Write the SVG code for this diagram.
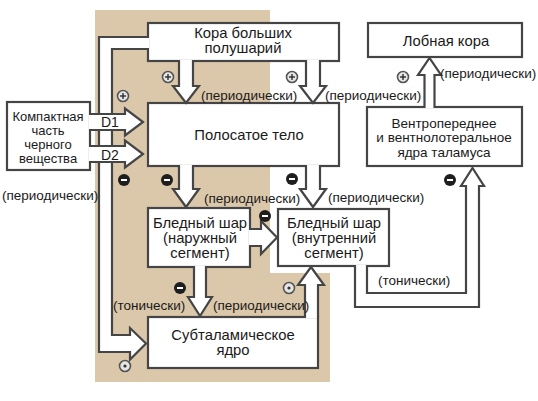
<svg xmlns="http://www.w3.org/2000/svg" width="538" height="401" viewBox="0 0 538 401">
<defs>
<style>
.box{fill:#fff;stroke:#454545;stroke-width:2.2}
.con{fill:#fff;stroke:#454545;stroke-width:2.2;stroke-linejoin:miter}
text{font-family:"Liberation Sans",Arial,sans-serif;font-size:13.5px;fill:#1a1a1a}
text.b{font-size:14.8px}
text.s{font-size:13px}
.c{text-anchor:middle}
.minus circle{fill:#1e1e1e}
.minus line{stroke:#fff;stroke-width:2}
.plus circle{fill:#e6e6e6;stroke:#555;stroke-width:1.6}
.plus line{stroke:#222;stroke-width:1.3}
.dot circle.o{fill:#e6e6e6;stroke:#555;stroke-width:1.6}
.dot circle.i{fill:#333}
</style>
<g id="minusSym" class="minus"><circle r="6"/><line x1="-3" y1="0" x2="3" y2="0"/></g>
<g id="plusSym" class="plus"><circle r="5.5"/><line x1="-3" y1="0" x2="3" y2="0"/><line x1="0" y1="-3" x2="0" y2="3"/></g>
<g id="dotSym" class="dot"><circle class="o" r="5.5"/><circle class="i" r="1.6"/></g>
</defs>
<rect width="538" height="401" fill="#fff"/>
<path d="M95,10 H270 V273 H330 V382 H95 Z" fill="#dbc8aa"/>

<g id="kora"><rect class="box" x="148" y="23" width="191" height="38"/><text class="c b" x="243" y="38">Кора больших</text><text class="c b" x="243" y="53">полушарий</text></g>
<g id="striatum"><rect class="box" x="148" y="103" width="191" height="63"/><text class="c b" x="249" y="140">Полосатое тело</text></g>
<g id="snc"><rect class="box" x="7" y="102" width="83" height="68"/><text class="c s" x="48" y="121">Компактная</text><text class="c s" x="48" y="135">часть</text><text class="c s" x="48" y="149">черного</text><text class="c s" x="48" y="163">вещества</text></g>
<g id="gpe"><rect class="box" x="148" y="208" width="102" height="59"/><text class="c b" x="200" y="228">Бледный шар</text><text class="c b" x="200" y="243">(наружный</text><text class="c b" x="200" y="258">сегмент)</text></g>
<g id="gpi"><rect class="box" x="278" y="209" width="111" height="57"/><text class="c b" x="334" y="228">Бледный шар</text><text class="c b" x="334" y="243">(внутренний</text><text class="c b" x="334" y="258">сегмент)</text></g>
<g id="stn"><rect class="box" x="148" y="317" width="170" height="51"/><text class="c b" x="233" y="340">Субталамическое</text><text class="c b" x="233" y="355">ядро</text></g>
<g id="thalamus"><rect class="box" x="367" y="107" width="155" height="59"/><text class="c" x="444" y="128">Вентропереднее</text><text class="c" x="444" y="142">и вентнолотеральное</text><text class="c" x="444" y="157">ядра таламуса</text></g>
<g id="frontal"><rect class="box" x="368" y="23" width="154" height="34"/><text class="c b" x="446" y="46">Лобная кора</text></g>

<g id="connectors">
<path class="con" d="M149,37 H99 V352 H130 V359.5 L146,343.5 L130,328 V335 H112 V49 H149"/>
<path class="con" d="M179,59.9 V86 H173 L186,103 L199,86 H193 V59.9"/>
<path class="con" d="M306,59.9 V86 H300 L313,103 L326,86 H320 V59.9"/>
<path class="con" d="M89,114 H125 V108.5 L143,122 L125,135.5 V130 H89"/>
<path class="con" d="M89,146 H125 V140.5 L143,154 L125,167.5 V162 H89"/>
<path class="con" d="M179,164.9 V189 H173 L186,207 L199,189 H193 V164.9"/>
<path class="con" d="M306,164.9 V189 H300 L313,207 L326,189 H320 V164.9"/>
<path class="con" d="M249,229 H261 V221 L277,237.5 L261,254 V246 H249"/>
<path class="con" d="M194,266 V297 H188 L200,316 L212,297 H206 V266"/>
<path class="con" d="M305,318 V285 H298 L311,267 L324,285 H318 V318"/>
<path class="con" d="M355,265 V307 H479 V186 H484 L472.5,168 L461,186 H466 V293 H367 V265"/>
<path class="con" d="M424.5,108 V75 H418 L429.5,58 L441,75 H434.5 V108"/>
<text x="101" y="127" style="font-size:14px">D1</text>
<text x="101" y="160" style="font-size:14px">D2</text>
</g>

<g id="signs">
<use href="#plusSym" x="123" y="96"/>
<use href="#plusSym" x="168" y="77"/>
<use href="#plusSym" x="292" y="77"/>
<use href="#plusSym" x="403" y="77"/>
<use href="#minusSym" x="124" y="180"/>
<use href="#minusSym" x="167" y="180"/>
<use href="#minusSym" x="292" y="179"/>
<use href="#minusSym" x="450" y="180"/>
<use href="#minusSym" x="265" y="216"/>
<use href="#minusSym" x="180" y="288"/>
<use href="#dotSym" x="125" y="366"/>
<use href="#dotSym" x="289" y="288"/>
</g>

<g id="labels">
<text x="2" y="200">(периодически)</text>
<text x="201" y="100">(периодически)</text>
<text x="325" y="100">(периодически)</text>
<text x="440" y="78">(периодически)</text>
<text x="204" y="203">(периодически)</text>
<text x="328" y="202">(периодически)</text>
<text x="113" y="310">(тонически)</text>
<text x="213" y="310">(периодически)</text>
<text x="378" y="285">(тонически)</text>
</g>
</svg>
